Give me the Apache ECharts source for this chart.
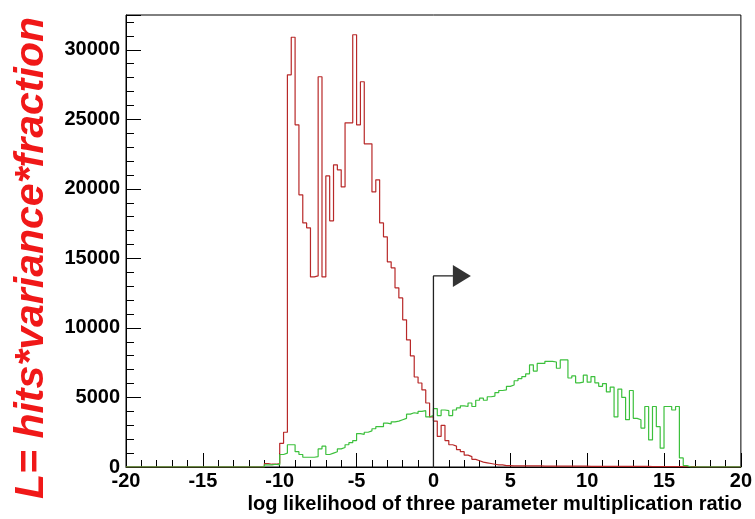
<!DOCTYPE html>
<html>
<head>
<meta charset="utf-8">
<script src="https://cdn.jsdelivr.net/npm/echarts@6/dist/echarts.min.js"></script>
<style>html,body{margin:0;padding:0;background:#fff;}#c{width:755px;height:519px;}</style>
</head>
<body>
<div id="c"></div>
<script>
// Histogram binning: 160 bins of width 0.25 from -20 to 20
var xMin = -20, xMax = 20, binWidth = 0.25;
var xTicks = [-20, -15, -10, -5, 0, 5, 10, 15, 20];
var yTicks = [0, 5000, 10000, 15000, 20000, 25000, 30000];

// Red histogram (bin contents, left to right)
var redValues = [
  0,0,0,0, 0,0,0,0, 0,0,0,0, 0,0,0,0, 0,0,0,0, 0,0,0,0, 0,0,0,0, 0,0,0,0, 0,0,0,0,   // -20 .. -11
  250,200,200,250,          // -11..-10
  1700,2500,28200,30900,    // -10..-9
  24600,19570,17550,17200,  // -9..-8
  13670,13740,28060,13670,  // -8..-7
  20930,17700,21730,21370,  // -7..-6
  20140,24750,24750,31080,  // -6..-5
  24600,27700,23240,23240,  // -5..-4
  19780,20650,17550,16550,  // -4..-3
  14750,14320,12880,12160,  // -3..-2
  10580,9140,7990,6470,     // -2..-1
  6040,5540,4600,3600,      // -1..0
  3300,2200,3000,1900,      // 0..1
  1600,1500,1250,1100,      // 1..2
  850,750,550,450,          // 2..3
  350,300,250,200,          // 3..4
  150,150,100,100,          // 4..5
  80,80,80,80, 80,80,80,80, 70,70,70,70,   // 5..8
  60,60,60,60, 60,60,60,60, 50,50,50,50, 50,50,50,50,  // 8..12
  40,40,40,40, 40,40,40,40, 30,30,30,30, 30,30,30,30, 20,20,20,20, // 12..17
  0,0,0,0, 0,0,0,0, 0,0,0,0  // 17..20
];

// Green histogram (bin contents, left to right)
var greenValues = [
  0,0,0,0, 0,0,0,0, 0,0,0,0, 0,0,0,0, 0,0,0,0, 0,0,0,0, 0,0,0,0, 0,0,0,0, 0,0,0,0,   // -20 .. -11
  150,150,200,150,          // -11..-10
  900,1000,1600,1600,       // -10..-9
  1100,900,700,700,         // -9..-8
  700,750,1300,1500,        // -8..-7
  900,1000,1100,1300,       // -7..-6
  1400,1600,1750,1900,      // -6..-5
  2400,2350,2500,2600,      // -5..-4
  2750,2900,2900,3150,      // -4..-3
  3100,3250,3300,3400,      // -3..-2
  3500,3800,3900,3850,      // -2..-1
  4000,4050,3600,3700,      // -1..0
  4200,3700,4100,4050,      // 0..1
  3700,4100,4250,4400,      // 1..2
  4350,4600,4350,4800,      // 2..3
  4950,4800,5050,5100,      // 3..4
  5350,5500,5550,5800,      // 4..5
  5900,6200,6350,6500,      // 5..6
  6700,7350,6900,7450,      // 6..7
  7450,7600,7600,7550,      // 7..8
  7100,7700,7700,6400,      // 8..9
  6550,6050,6100,6600,      // 9..10
  6100,6500,6050,5800,      // 10..11
  6000,5400,5750,3600,      // 11..12
  5600,5000,3400,5500,      // 12..13
  3500,3400,2800,4350,      // 13..14
  1950,4350,2900,1350,      // 14..15
  4350,4350,4100,4350,      // 15..16
  650,100,0,0,              // 16..17
  0,0,0,0, 0,0,0,0, 0,0,0,0 // 17..20
];

// Cut arrow annotation (data coordinates)
var arrowPath = [[0, 0], [0, 13740], [1.27, 13740]];
var arrowHead = [[1.85, 13740]];

var xTitle = 'log likelihood of three parameter multiplication ratio';
var yTitle = 'L= hits*variance*fraction';

function histPoints(vals) {
  var pts = [];
  for (var i = 0; i < vals.length; i++) pts.push([xMin + i * binWidth, vals[i]]);
  pts.push([xMax, vals[vals.length - 1]]);
  return pts;
}

var chart = echarts.init(document.getElementById('c'), null, {renderer: 'canvas'});
var labelFont = {color: '#000', fontSize: 20, fontWeight: 'bold', fontFamily: 'Liberation Sans, Arial, sans-serif'};
chart.setOption({
  animation: false,
  backgroundColor: '#fff',
  grid: {left: 126, right: 13, top: 15, bottom: 52, show: true, borderColor: '#000', borderWidth: 1, backgroundColor: 'transparent'},
  xAxis: {
    type: 'value', min: xMin, max: xMax, interval: 5,
    axisLine: {show: true, onZero: false, lineStyle: {color: '#000', width: 1}},
    axisTick: {show: true, inside: true, length: 14, lineStyle: {color: '#000'}},
    minorTick: {show: true, splitNumber: 5, length: 7, lineStyle: {color: '#000'}},
    splitLine: {show: false}, minorSplitLine: {show: false},
    axisLabel: Object.assign({margin: 4, showMinLabel: true, showMaxLabel: true,
      formatter: function (v) { return xTicks.indexOf(v) >= 0 ? String(v) : ''; }}, labelFont)
  },
  yAxis: {
    type: 'value', min: 0, max: 32500, interval: 5000,
    axisLine: {show: true, onZero: false, lineStyle: {color: '#000', width: 1}},
    axisTick: {show: true, inside: true, length: 15, lineStyle: {color: '#000'}},
    minorTick: {show: true, splitNumber: 5, length: 8, lineStyle: {color: '#000'}},
    splitLine: {show: false}, minorSplitLine: {show: false},
    axisLabel: Object.assign({margin: 6, showMaxLabel: false,
      formatter: function (v) { return yTicks.indexOf(v) >= 0 ? String(v) : ''; }}, labelFont)
  },
  graphic: [
    {type: 'text', right: 13, top: 494, style: {text: xTitle, fill: '#000', font: 'bold 20px "Liberation Sans", Arial, sans-serif'}},
    {type: 'text', x: 32, y: 258, rotation: Math.PI / 2,
     style: {text: yTitle, fill: '#f01818', align: 'center', verticalAlign: 'middle', font: 'italic bold 41px "Liberation Sans", Arial, sans-serif'}}
  ],
  series: [
    {type: 'line', name: 'red', step: 'end', showSymbol: false, symbol: 'none', data: histPoints(redValues),
     lineStyle: {color: '#b82828', width: 1.2}, z: 2},
    {type: 'line', name: 'green', step: 'end', showSymbol: false, symbol: 'none', data: histPoints(greenValues),
     lineStyle: {color: '#3cc03c', width: 1.2}, z: 3},
    {type: 'line', name: 'cut', showSymbol: false, symbol: 'none', data: arrowPath,
     lineStyle: {color: '#222', width: 1.3}, z: 4},
    {type: 'scatter', name: 'head', data: arrowHead, symbol: 'path://M0,0L18,11L0,22Z', symbolSize: [18, 22],
     itemStyle: {color: '#000'}, z: 5}
  ]
});
</script>
</body>
</html>
